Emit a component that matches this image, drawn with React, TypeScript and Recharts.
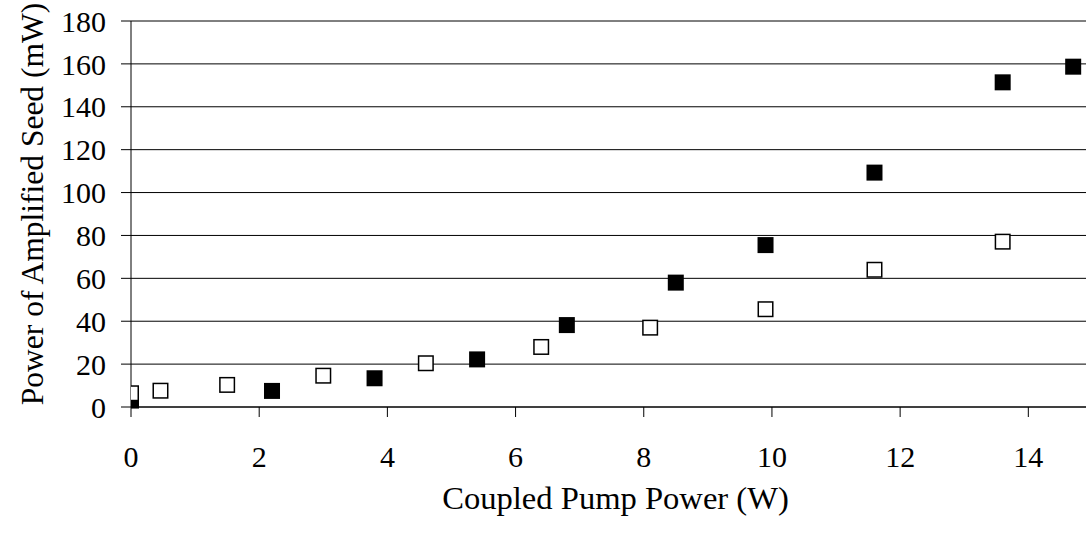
import React from "react";
import {
  ScatterChart,
  Scatter,
  XAxis,
  YAxis,
  CartesianGrid,
  Label,
} from "recharts";

// coupled pump power (W) / amplified seed power (mW)
const filledX = [0, 2.2, 3.8, 5.4, 6.8, 8.5, 9.9, 11.6, 13.6, 14.7];
const filledY = [3, 7.5, 13.4, 22.2, 38.2, 58, 75.5, 109.3, 151.4, 158.7];

const openX = [0, 0.46, 1.5, 3.0, 4.6, 6.4, 8.1, 9.9, 11.6, 13.6];
const openY = [6.4, 7.6, 10.3, 14.6, 20.4, 28, 37, 45.6, 64, 77.1];

const xTicks = [0, 2, 4, 6, 8, 10, 12, 14];
const yTicks = [0, 20, 40, 60, 80, 100, 120, 140, 160, 180];

const filledData = filledX.map((x, i) => ({ x, y: filledY[i] }));
const openData = openX.map((x, i) => ({ x, y: openY[i] }));

const FONT = "'Liberation Serif', 'Times New Roman', serif";

function FilledSquare({ cx, cy }: { cx?: number; cy?: number }) {
  if (cx == null || cy == null) return null;
  return <rect x={cx - 8} y={cy - 8} width={16} height={16} fill="#000" />;
}

function OpenSquare({ cx, cy }: { cx?: number; cy?: number }) {
  if (cx == null || cy == null) return null;
  return (
    <rect
      x={cx - 7.25}
      y={cy - 7.25}
      width={14.5}
      height={14.5}
      fill="#fff"
      stroke="#000"
      strokeWidth={1.5}
    />
  );
}

function YTitle({ viewBox }: { viewBox?: { x: number; y: number; width: number; height: number } }) {
  if (!viewBox) return null;
  const cy = viewBox.y + viewBox.height / 2 - 10;
  const x = 43;
  return (
    <text
      x={x}
      y={cy}
      transform={`rotate(-90, ${x}, ${cy})`}
      textAnchor="middle"
      fontFamily={FONT}
      fontSize={31.5}
      fill="#000"
    >
      Power of Amplified Seed (mW)
    </text>
  );
}

export default function App() {
  const tickStyle = { fontSize: 30, fill: "#000", fontFamily: FONT };
  return (
    <div style={{ position: "absolute", left: 0, top: 0, background: "#fff" }}>
      <ScatterChart
        width={1086}
        height={533}
        margin={{ top: 21, right: 0, bottom: 0, left: 0 }}
      >
        <CartesianGrid vertical={false} stroke="#000" strokeWidth={1} />
        <XAxis
          type="number"
          dataKey="x"
          domain={[0, 14.9]}
          ticks={xTicks}
          allowDataOverflow
          height={126}
          stroke="#000"
          tickSize={10}
          tickMargin={29}
          tick={tickStyle}
        >
          <Label
            value="Coupled Pump Power (W)"
            position="insideBottom"
            offset={24}
            dx={7}
            style={{ fontSize: 32.6, fill: "#000", fontFamily: FONT }}
          />
        </XAxis>
        <YAxis
          type="number"
          dataKey="y"
          domain={[0, 180]}
          ticks={yTicks}
          width={131}
          stroke="#000"
          tickSize={10}
          tickMargin={15}
          tick={tickStyle}
        >
          <Label content={<YTitle />} />
        </YAxis>
        <Scatter data={filledData} shape={<FilledSquare />} isAnimationActive={false} />
        <Scatter data={openData} shape={<OpenSquare />} isAnimationActive={false} />
      </ScatterChart>
    </div>
  );
}
